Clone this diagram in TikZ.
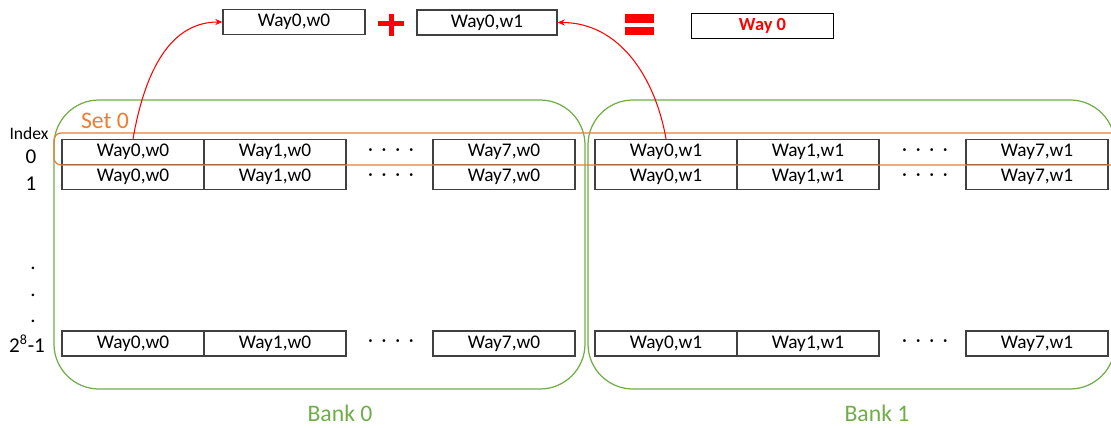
\documentclass[tikz,border=0pt]{standalone}
\usepackage{fontspec}
\setmainfont{Carlito}
\usepackage{xcolor}
\usetikzlibrary{arrows.meta}
\definecolor{bankgreen}{RGB}{112,173,71}
\definecolor{setorange}{RGB}{237,125,49}
\definecolor{celledge}{RGB}{64,64,64}

\begin{document}
\begin{tikzpicture}[x=0.02cm, y=-0.02cm, >=Stealth,
  cell/.style={draw=celledge, line width=0.8pt, minimum width=2.84cm, minimum height=0.5cm, inner sep=0pt, font=\fontsize{11}{13}\selectfont},
  bank/.style={draw=bankgreen, line width=0.7pt, rounded corners=0.9cm},
  idx/.style={inner sep=0pt, font=\fontsize{12}{14}\selectfont},
  hdots/.style={inner sep=0pt, font=\fontsize{11}{13}\selectfont},
  fetch/.style={->, red, line width=0.6pt, arrows={-Stealth[length=4pt, width=3.5pt]}},
  lab/.style={inner sep=0pt, font=\fontsize{13.5}{15}\selectfont, text=bankgreen}]
  \useasboundingbox (0,0) rectangle (1111,428);
  % the two banks
  \draw[bank] (54,100) rectangle (585,389);
  \draw[bank] (588,100) rectangle (1115,389);
  \node[lab] (bank0) at (340,413) {Bank 0};
  \node[lab] (bank1) at (877,413) {Bank 1};
  % index column
  \node[inner sep=0pt, font=\fontsize{10}{12}\selectfont] (index) at (29,133) {Index};
  \node[idx] (i0) at (31,157) {0};
  \node[idx] (i1) at (31,184) {1};
  \foreach \k/\y in {1/268, 2/295, 3/321}
    \node[idx] (vdot\k) at (33,\y) {.};
  \node[idx] (ilast) at (27,344) {2\textsuperscript{8}-1};
  % cell rows: 0, 1 and the last one
  \foreach \r/\y in {a/152, b/177, z/343.5} {
    \node[cell] (b0w0\r) at (133,\y) {Way0,w0};
    \node[cell] (b0w1\r) at (275,\y) {Way1,w0};
    \node[hdots] (b0d\r) at (391,\y) {·\ \ ·\ \ ·\ \ ·};
    \node[cell] (b0w7\r) at (504,\y) {Way7,w0};
    \node[cell] (b1w0\r) at (666,\y) {Way0,w1};
    \node[cell] (b1w1\r) at (808,\y) {Way1,w1};
    \node[hdots] (b1d\r) at (925,\y) {·\ \ ·\ \ ·\ \ ·};
    \node[cell] (b1w7\r) at (1037,\y) {Way7,w1};
  }
  % set 0 across both banks
  \draw[setorange, line width=0.7pt, rounded corners=4pt] (54,133) rectangle (1140,165);
  \node[inner sep=0pt, font=\fontsize{13.5}{15}\selectfont, text=setorange] (set0) at (105,121) {Set 0};
  % combining the two halves
  \node[cell] (sum0) at (294,22) {Way0,w0};
  \node[cell, minimum width=2.8cm] (sum1) at (487,22.5) {Way0,w1};
  \node[cell, draw=black, minimum width=2.83cm, font=\fontsize{10.5}{12}\selectfont\bfseries, text=red] (result) at (762.5,25.8) {Way 0};
  \fill[red] (378,20.7) rectangle (404,26.2);
  \fill[red] (388.8,14) rectangle (393.8,36);
  \fill[red] (625,14) rectangle (654,22.7);
  \fill[red] (625,26.7) rectangle (654,35.3);
  \draw[fetch] (b0w0a.north) to[out=80, in=180] (sum0.west);
  \draw[fetch] (b1w0a.north) to[out=100, in=0] (sum1.east);
\end{tikzpicture}
\end{document}
